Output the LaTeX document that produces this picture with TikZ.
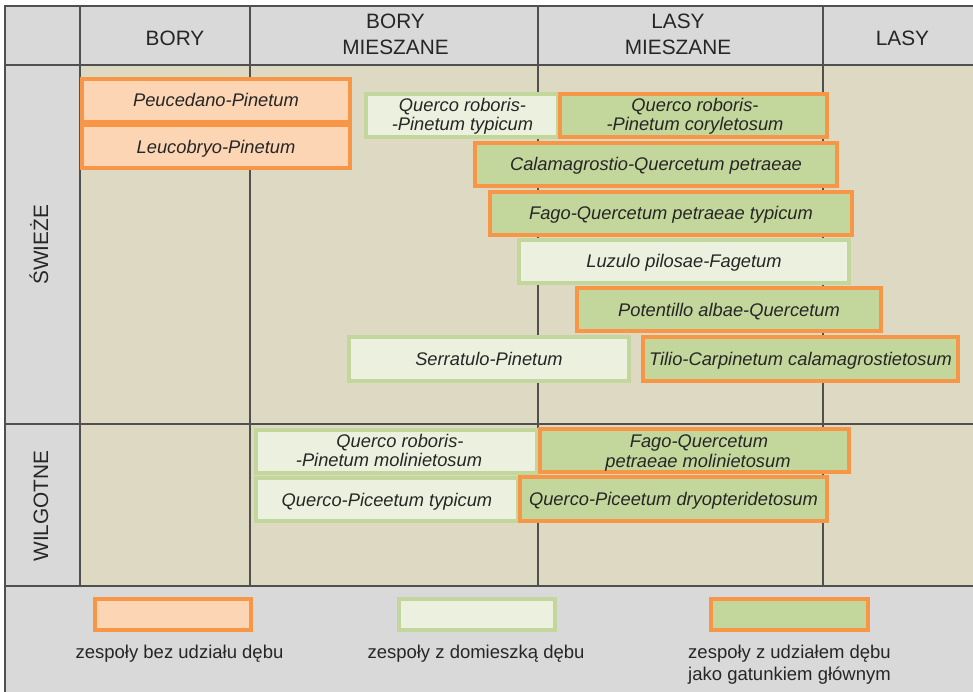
\documentclass[tikz,border=0pt]{standalone}
\usepackage{fontspec}
\setmainfont{Liberation Sans}
\definecolor{bggrey}{HTML}{D9D9D9}
\definecolor{beige}{HTML}{DDD9C3}
\definecolor{gridline}{HTML}{505050}
\definecolor{orline}{HTML}{F79646}
\definecolor{peach}{HTML}{FCD5B4}
\definecolor{ltgreen}{HTML}{EBF1DE}
\definecolor{grline}{HTML}{C3D69B}
\definecolor{green}{HTML}{C3D69B}
\definecolor{txt}{HTML}{262626}
\tikzset{
  grid/.style={draw=gridline, line width=1.3pt},
  sz/.style 2 args={minimum width={#1-4}, minimum height={#2-4}},
  box/.style={line width=4pt, inner sep=0pt, text=txt,
    font=\fontsize{18.3}{19}\selectfont\itshape, text height=13pt, text depth=0pt},
  orbox/.style={box, draw=orline, fill=peach},
  ltbox/.style={box, draw=grline, fill=ltgreen},
  grbox/.style={box, draw=orline, fill=green},
  boxtxt/.style={inner sep=0pt, anchor=base, text=txt, font=\fontsize{18.3}{19}\selectfont\itshape},
  head/.style={inner sep=0pt, anchor=base, text=txt, font=\fontsize{20.8}{22}\selectfont},
  side/.style={inner sep=0pt, rotate=90, text=txt, font=\fontsize{20.8}{22}\selectfont, text height=15pt, text depth=0pt},
  legtxt/.style={inner sep=0pt, anchor=base, text=txt, font=\fontsize{18.5}{20}\selectfont},
}
\begin{document}
\begin{tikzpicture}[x=1pt, y=-1pt]
\useasboundingbox (0,0) rectangle (973,692);
\fill[white] (0,0) rectangle (973,692);
% backgrounds
\fill[bggrey] (5,6) rectangle (973,65);
\fill[bggrey] (5,65) rectangle (80,586);
\fill[beige] (80,65) rectangle (973,586);
\fill[bggrey] (5,586) rectangle (973,692);
% grid
\draw[grid] (4,6) -- (973,6);
\draw[grid] (4,65) -- (973,65);
\draw[grid] (4,424) -- (973,424);
\draw[grid] (4,586) -- (973,586);
\draw[grid] (5,6) -- (5,692);
\draw[grid] (80,6) -- (80,586);
\draw[grid] (250,6) -- (250,586);
\draw[grid] (538,6) -- (538,586);
\draw[grid] (823,6) -- (823,586);
% headers
\node[head] (h1) at (175,45.7) {BORY};
\node[head] (h2a) at (395.5,29) {BORY};
\node[head] (h2b) at (395.5,55) {MIESZANE};
\node[head] (h3a) at (678,29) {LASY};
\node[head] (h3b) at (678,55) {MIESZANE};
\node[head] (h4) at (902.5,45.7) {LASY};
\node[side] (s1) at (40.5,245) {ŚWIEŻE};
\node[side] (s2) at (40.5,506) {WILGOTNE};
% ŚWIEŻE boxes
\node[orbox, sz={272}{47}] (pp) at (216,100.5) {Peucedano-Pinetum};
\node[orbox, sz={272}{47}] (lp) at (216,147) {Leucobryo-Pinetum};
\node[ltbox, sz={196}{47}] (qrt) at (462,115.5) {};
\node[boxtxt] (qrt1) at (462.5,112) {Querco roboris-};
\node[boxtxt] (qrt2) at (462.5,131) {-Pinetum typicum};
\node[grbox, sz={271}{47}] (qrc) at (693.5,115.5) {};
\node[boxtxt] (qrc1) at (695,112) {Querco roboris-};
\node[boxtxt] (qrc2) at (695,131) {-Pinetum coryletosum};
\node[grbox, sz={366}{47}] (cqp) at (656,164.5) {Calamagrostio-Quercetum petraeae};
\node[grbox, sz={366}{47}] (fqpt) at (671,213.5) {Fago-Quercetum petraeae typicum};
\node[ltbox, sz={334}{47}] (lpf) at (684,261.5) {Luzulo pilosae-Fagetum};
\node[grbox, sz={308}{47}] (paq) at (729,309.5) {Potentillo albae-Quercetum};
\node[ltbox, sz={284}{48}] (sp) at (489,359) {Serratulo-Pinetum};
\node[grbox, sz={319}{48}] (tcc) at (800.5,359) {Tilio-Carpinetum calamagrostietosum};
% WILGOTNE boxes
\node[ltbox, sz={285}{47}] (qrm) at (396.5,451.5) {};
\node[boxtxt] (qrm1) at (400,447) {Querco roboris-};
\node[boxtxt] (qrm2) at (389,466) {-Pinetum molinietosum};
\node[ltbox, sz={266}{47}] (qpt) at (387,499.5) {Querco-Piceetum typicum};
\node[grbox, sz={313}{47}] (fqpm) at (694.5,450.5) {};
\node[boxtxt] (fqpm1) at (699,447) {Fago-Quercetum};
\node[boxtxt] (fqpm2) at (698,467) {petraeae molinietosum};
\node[grbox, sz={311}{48}] (qpd) at (673.5,499) {Querco-Piceetum dryopteridetosum};
% legend
\node[orbox, sz={160}{35}] (l1) at (173,614.5) {};
\node[ltbox, sz={160}{35}] (l2) at (477,614.5) {};
\node[grbox, sz={161}{35}] (l3) at (789.5,614.5) {};
\node[legtxt] (t1) at (179.5,658) {zespoły bez udziału dębu};
\node[legtxt] (t2) at (476,658) {zespoły z domieszką dębu};
\node[legtxt] (t3a) at (789.5,658) {zespoły z udziałem dębu};
\node[legtxt] (t3b) at (789.5,680) {jako gatunkiem głównym};
\end{tikzpicture}
\end{document}
